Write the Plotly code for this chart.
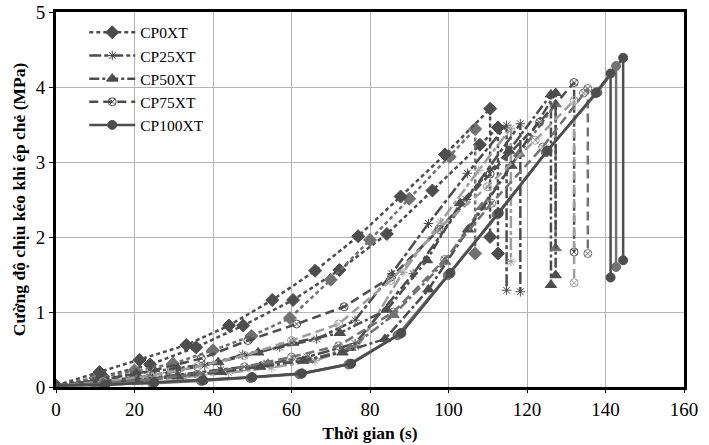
import plotly.graph_objects as go

# ---- data (time s, strength MPa) ----
cp0_a_x = [0, 11.1, 21.3, 33.2, 44.1, 55.1, 66.0, 77.0, 87.8, 99.1, 110.6, 110.6]
cp0_a_y = [0.02, 0.20, 0.36, 0.56, 0.82, 1.16, 1.55, 2.01, 2.54, 3.10, 3.71, 2.00]
cp0_b_x = [0, 10, 20, 29.8, 40, 49.8, 59.6, 70.0, 80.0, 90.0, 100.3, 106.8, 106.8]
cp0_b_y = [0.02, 0.12, 0.22, 0.31, 0.49, 0.68, 0.92, 1.43, 1.96, 2.51, 3.07, 3.44, 1.78]
cp0_c_x = [0, 12, 24, 35.7, 47.7, 60.4, 72.2, 84.3, 95.9, 108.0, 112.6, 112.6]
cp0_c_y = [0.02, 0.14, 0.30, 0.53, 0.82, 1.16, 1.56, 2.04, 2.62, 3.23, 3.46, 1.78]

cp25_a_x = [0, 9.5, 19, 28.5, 37.9, 47.5, 57.0, 66.4, 76.2, 85.5, 94.9, 104.8, 114.8, 114.8]
cp25_a_y = [0.02, 0.06, 0.12, 0.19, 0.29, 0.43, 0.53, 0.64, 0.89, 1.51, 2.18, 2.85, 3.49, 1.29]
cp25_b_x = [0, 10, 21, 31, 42, 53, 64, 76.2, 91.0, 104.5, 118.3, 118.3]
cp25_b_y = [0.02, 0.05, 0.10, 0.16, 0.23, 0.30, 0.40, 0.58, 1.51, 2.50, 3.51, 1.27]
cp25_c_x = [0, 11, 22, 33, 44, 55, 66, 77, 88.4, 98, 107.7, 115.9, 115.9]
cp25_c_y = [0.02, 0.04, 0.08, 0.13, 0.19, 0.26, 0.35, 0.55, 1.53, 2.20, 2.89, 3.45, 1.67]

cp50_a_x = [0, 10.6, 20.4, 31, 41.3, 51.5, 60.4, 72.3, 84.3, 94.5, 103.0, 115.4, 126.1, 126.1]
cp50_a_y = [0.02, 0.09, 0.18, 0.25, 0.33, 0.46, 0.59, 0.72, 1.03, 1.69, 2.45, 3.15, 3.90, 1.36]
cp50_b_x = [0, 10, 21, 31, 42, 52, 63, 73, 83.8, 94.9, 105, 116, 127.3, 127.3]
cp50_b_y = [0.02, 0.05, 0.09, 0.14, 0.20, 0.27, 0.35, 0.46, 0.64, 1.30, 2.10, 2.95, 3.92, 1.49]
cp50_c_x = [0, 10, 20.5, 31, 41.7, 54.0, 64.3, 75, 86.0, 99.1, 108.5, 118.0, 127.3, 127.3]
cp50_c_y = [0.02, 0.05, 0.10, 0.15, 0.20, 0.31, 0.36, 0.52, 0.96, 1.67, 2.40, 3.11, 3.77, 1.85]

cp75_a_x = [0, 12.3, 24.6, 37.0, 48.9, 61.3, 73.4, 85.5, 97.6, 110.6, 123.2, 132.0, 132.0]
cp75_a_y = [0.02, 0.10, 0.22, 0.38, 0.62, 0.84, 1.07, 1.47, 2.10, 2.84, 3.53, 4.06, 1.80]
cp75_b_x = [0, 12, 24, 36, 48, 60, 72, 86, 99, 111, 124, 134.4, 135.5, 135.5]
cp75_b_y = [0.02, 0.05, 0.10, 0.17, 0.27, 0.40, 0.55, 1.00, 1.70, 2.45, 3.20, 3.92, 3.98, 1.78]
cp75_c_x = [0, 12, 24, 36, 48, 60, 72, 85.3, 97.9, 109.9, 122.1, 132.0, 132.0]
cp75_c_y = [0.02, 0.07, 0.15, 0.27, 0.42, 0.62, 0.84, 1.42, 2.13, 2.67, 3.29, 3.82, 1.39]

cp100_a_x = [0, 12.5, 25, 37.5, 50, 62.6, 74.9, 87.7, 100.2, 112.6, 125.0, 137.9, 144.5, 144.5]
cp100_a_y = [0.02, 0.03, 0.06, 0.09, 0.13, 0.18, 0.31, 0.71, 1.51, 2.31, 3.14, 3.93, 4.39, 1.69]
cp100_b_x = [0, 12, 24.5, 37, 49.5, 62, 74.5, 87, 99.8, 112.3, 124.8, 137.9, 142.7, 142.7]
cp100_b_y = [0.02, 0.03, 0.05, 0.08, 0.12, 0.17, 0.30, 0.69, 1.49, 2.30, 3.13, 3.93, 4.28, 1.60]
cp100_c_x = [0, 12.5, 25, 37.5, 50, 62.6, 75.2, 88, 100.5, 112.8, 125.2, 137.5, 141.3, 141.3]
cp100_c_y = [0.02, 0.03, 0.06, 0.09, 0.13, 0.18, 0.31, 0.72, 1.52, 2.32, 3.15, 3.92, 4.18, 1.46]

x_ticks = [0, 20, 40, 60, 80, 100, 120, 140, 160]
y_ticks = [0, 1, 2, 3, 4, 5]

DARK, MID, LIGHT = "#4d4d4d", "#727272", "#9e9e9e"

groups = [
    ("CP0XT", "diamond", 10, "4px,3px",
     [(cp0_c_x, cp0_c_y, DARK), (cp0_b_x, cp0_b_y, MID), (cp0_a_x, cp0_a_y, DARK)]),
    ("CP25XT", "asterisk-open", 8, "12px,3px,4px,3px",
     [(cp25_a_x, cp25_a_y, DARK), (cp25_c_x, cp25_c_y, LIGHT), (cp25_b_x, cp25_b_y, DARK)]),
    ("CP50XT", "triangle-up", 10, "10px,3px,3px,3px",
     [(cp50_a_x, cp50_a_y, DARK), (cp50_c_x, cp50_c_y, MID), (cp50_b_x, cp50_b_y, DARK)]),
    ("CP75XT", "circle-x-open", 8, "9px,5px",
     [(cp75_a_x, cp75_a_y, DARK), (cp75_c_x, cp75_c_y, LIGHT), (cp75_b_x, cp75_b_y, MID)]),
    ("CP100XT", "circle", 9, "solid",
     [(cp100_a_x, cp100_a_y, DARK), (cp100_b_x, cp100_b_y, MID), (cp100_c_x, cp100_c_y, DARK)]),
]

fig = go.Figure()
for name, sym, size, dash, specs in groups:
    for i, (xs, ys, col) in enumerate(specs):
        fig.add_trace(go.Scatter(
            x=xs, y=ys, mode="lines+markers", name=name, legendgroup=name,
            showlegend=(i == 0),
            line=dict(color=col, width=2.5, dash=dash),
            marker=dict(symbol=sym, size=size, color=col, line=dict(color=col, width=1)),
        ))

axis_font = dict(family="Liberation Serif", size=19, color="black")
title_font = dict(family="Liberation Serif", size=17.5, color="black")
fig.update_layout(
    width=709, height=445,
    margin=dict(l=56, r=25, t=12, b=58),
    paper_bgcolor="white", plot_bgcolor="white",
    font=dict(family="Liberation Serif", color="black"),
    legend=dict(x=0.045, y=0.99, xanchor="left", yanchor="top",
                bgcolor="rgba(0,0,0,0)", font=dict(family="Liberation Serif", size=15.5, color="black"),
                itemwidth=46, tracegroupgap=0),
    xaxis=dict(range=[0, 160], tickvals=x_ticks, showgrid=True, gridcolor="#b4b4b4", gridwidth=1,
               showline=True, linecolor="black", linewidth=3, mirror=True,
               ticks="outside", ticklen=3, tickcolor="black", tickfont=axis_font,
               zeroline=False, automargin=False,
               title=dict(text="<b>Thời gian (s)</b>", standoff=8, font=title_font)),
    yaxis=dict(range=[0, 5], tickvals=y_ticks, showgrid=True, gridcolor="#b4b4b4", gridwidth=1,
               showline=True, linecolor="black", linewidth=3, mirror=True,
               ticks="outside", ticklen=4, tickcolor="black", tickfont=axis_font,
               zeroline=False, automargin=False,
               title=dict(text="<b>Cường độ chịu kéo khi ép chẻ (MPa)</b>", standoff=6, font=title_font)),
)

fig.write_html("out.html")
